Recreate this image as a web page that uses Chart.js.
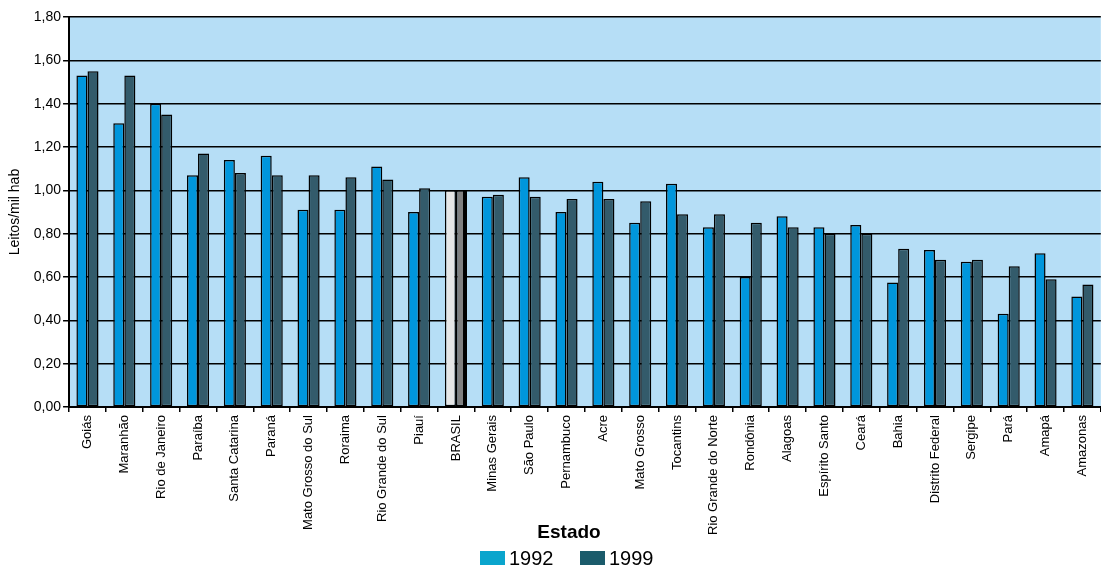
<!DOCTYPE html>
<html>
<head>
<meta charset="utf-8">
<script src="https://cdn.jsdelivr.net/npm/chart.js@4"></script>
<style>
html,body{margin:0;padding:0;background:#fff;}
#wrap{width:1101px;height:567px;position:relative;}
</style>
</head>
<body>
<div id="wrap"><canvas id="c" width="1101" height="567"></canvas></div>
<script>
const categories = ["Goiás","Maranhão","Rio de Janeiro","Paraíba","Santa Catarina","Paraná","Mato Grosso do Sul","Roraima","Rio Grande do Sul","Piauí","BRASIL","Minas Gerais","São Paulo","Pernambuco","Acre","Mato Grosso","Tocantins","Rio Grande do Norte","Rondônia","Alagoas","Espírito Santo","Ceará","Bahia","Distrito Federal","Sergipe","Pará","Amapá","Amazonas"];
const values1992 = [1.53,1.31,1.40,1.07,1.14,1.16,0.91,0.91,1.11,0.90,1.00,0.97,1.06,0.90,1.04,0.85,1.03,0.83,0.60,0.88,0.83,0.84,0.575,0.725,0.67,0.43,0.71,0.51];
const values1999 = [1.55,1.53,1.35,1.17,1.08,1.07,1.07,1.06,1.05,1.01,1.00,0.98,0.97,0.96,0.96,0.95,0.89,0.89,0.85,0.83,0.80,0.80,0.73,0.68,0.68,0.65,0.59,0.565];
const seriesNames = ["1992","1999"];
const yTicks = [0,0.2,0.4,0.6,0.8,1.0,1.2,1.4,1.6,1.8];

const barColors = ["#0096DC","#335B6B"];
const legendColors = ["#0AA5CD","#1B5B6B"];
const highlight = "BRASIL";
const highlightColors = ["#E6E6E6","#808080"];

function colorsFor(i){ return categories.map(c => c === highlight ? highlightColors[i] : barColors[i]); }

const bgPlugin = {
  id:'bg',
  beforeDraw(chart){
    const {ctx, chartArea:a} = chart;
    ctx.save(); ctx.fillStyle = '#B6DEF6';
    ctx.fillRect(a.left, a.top, a.right-a.left, a.bottom-a.top);
    ctx.restore();
  }
};
const extrasPlugin = {
  id:'extras',
  afterDraw(chart){
    const ctx = chart.ctx;
    ctx.save();
    ctx.fillStyle = '#000';
    ctx.font = 'bold 19px "Liberation Sans", Arial, sans-serif';
    ctx.textAlign = 'center'; ctx.textBaseline = 'middle';
    ctx.fillText('Estado', 569, 533);
    ctx.font = '20px "Liberation Sans", Arial, sans-serif';
    ctx.textAlign = 'left';
    const startX = [480, 580];
    chart.data.datasets.forEach((ds, i) => {
      ctx.fillStyle = legendColors[i];
      ctx.fillRect(startX[i], 551, 25, 14);
      ctx.fillStyle = '#000';
      ctx.fillText(ds.label, startX[i] + 29, 559);
    });
    ctx.restore();
  }
};

new Chart(document.getElementById('c'), {
  type:'bar',
  data:{
    labels: categories,
    datasets: seriesNames.map((name, i) => ({
      label: name,
      data: i === 0 ? values1992 : values1999,
      backgroundColor: colorsFor(i),
      borderColor: '#000',
      borderWidth: categories.map(c => (c === highlight && i === 1) ? {top:1.5,left:1.5,bottom:1.5,right:4} : 1.5),
      borderSkipped: false,
      categoryPercentage: 0.6,
      barPercentage: 1.0
    }))
  },
  options:{
    responsive:false,
    animation:false,
    devicePixelRatio:1,
    layout:{padding:{top:17,right:0,bottom:29,left:7}},
    plugins:{legend:{display:false}, tooltip:{enabled:false}},
    scales:{
      x:{
        grid:{offset:true, drawOnChartArea:false, drawTicks:true, tickLength:5, color:'#000', lineWidth:1.5},
        border:{color:'#000', width:2},
        ticks:{autoSkip:false, maxRotation:90, minRotation:90, color:'#000', padding:3,
               font:{family:'"Liberation Sans", Arial, sans-serif', size:13}}
      },
      y:{
        min:0, max:1.8,
        afterBuildTicks(scale){ scale.ticks = yTicks.map(v => ({value:v})); },
        grid:{color:'#000', lineWidth:1.5, drawTicks:true, tickLength:6},
        border:{color:'#000', width:2},
        ticks:{color:'#000', padding:2,
               font:{family:'"Liberation Sans", Arial, sans-serif', size:14},
               callback:v => Number(v).toFixed(2).replace('.', ',')},
        title:{display:true, text:'Leitos/mil hab', color:'#000', padding:{top:0,bottom:8},
               font:{family:'"Liberation Sans", Arial, sans-serif', size:14}}
      }
    }
  },
  plugins:[bgPlugin, extrasPlugin]
});
</script>
</body>
</html>
